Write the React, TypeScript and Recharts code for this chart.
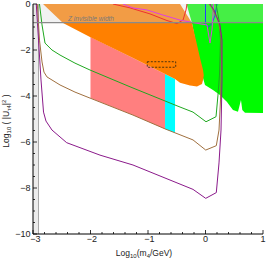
import React from 'react';
import { ComposedChart, Area, Line, XAxis, YAxis, ReferenceLine, ReferenceArea, CartesianGrid } from 'recharts';

// ---- axes ----
const xTickValues = [-3, -2.8, -2.6, -2.4, -2.2, -2, -1.8, -1.6, -1.4, -1.2, -1, -0.8, -0.6, -0.4, -0.2, 0, 0.2, 0.4, 0.6, 0.8, 1];
const xLabelled = [-3, -2, -1, 0, 1];
const yTickValues = [-10, -9.5, -9, -8.5, -8, -7.5, -7, -6.5, -6, -5.5, -5, -4.5, -4, -3.5, -3, -2.5, -2, -1.5, -1, -0.5, 0];
const yLabelled = [-10, -8, -6, -4, -2, 0];
const gridX = [-2, -1, 0];
const gridY = [-8, -6, -4, -2];

// ---- limits ----
const zInvisibleLimit = -0.81;
const zLabelText = 'Z invisible width';
const leftLimitX = -2.904;
const stripX = [-3, -2.904];
const stripLow = [-10, -10];
const stripHigh = [0, 0];
const bandX = [-3, 1];
const bandLow = [-0.81, -0.81];
const bandHigh = [0, 0];
const boxX = [-1.012, -0.518];
const boxY = [-2.75, -2.51];

// ---- filled regions ----
const orangeX = [-2.826, -2.478, -2.009, -1.261, -0.704, -0.53, -0.443, -0.27, -0.235, -0.148, -0.087, -0.061, -0.043, -0.03];
const orangeLow = [0, -0.83, -1.43, -2.35, -3.04, -3.26, -3.42, -3.54, -3.55, -3.59, -3.51, -3.48, -3.3, -3.1];
const orangeHigh = [0, 0, 0, 0, 0, 0, 0, -0.69, -0.83, -1.77, -2.43, -2.69, -2.87, -3.1];

const pinkX = [-2.0, -1.261, -0.704];
const pinkLow = [-4.09, -4.83, -5.43];
const pinkHigh = [-1.43, -2.35, -3.04];

const cyanX = [-0.704, -0.53];
const cyanLow = [-5.43, -5.6];
const cyanHigh = [-3.04, -3.26];

const greenX = [-0.33, -0.235, -0.113, -0.043, -0.009, 0.13, 0.252, 0.374, 0.478, 0.565, 0.617, 0.64, 0.687, 1.0];
const greenLow = [0, -0.83, -2.43, -3.22, -3.52, -3.74, -3.96, -4.26, -4.61, -4.68, -4.17, -4.61, -4.73, -4.74];
const greenHigh = [0, 0, 0, 0, 0, 0, 0, 0, 0, 0, 0, 0, 0, 0];

// ---- curves ----
const greenLineX = [-2.887, -2.843, -2.791, -2.67, -2.53, -2.27, -2.009, -1.313, -0.443, -0.217, 0.009, 0.183, 0.217, 0.243, 0.261, 0.235, 0.183];
const greenLineY = [0, -0.91, -1.7, -2.0, -2.22, -2.57, -2.87, -3.6, -4.48, -4.7, -5.12, -4.9, -3.96, -3.09, -1.57, -0.7, 0];

const brownLineX = [-2.925, -2.887, -2.843, -2.809, -2.757, -2.53, -2.27, -2.009, -1.261, -0.704, -0.217, 0.004, 0.188, 0.235, 0.261, 0.278, 0.27, 0.217, 0.113, 0.061];
const brownLineY = [0, -1.57, -2.52, -2.96, -3.17, -3.52, -3.83, -4.09, -4.83, -5.43, -5.91, -6.35, -6.16, -5.48, -4.17, -2.43, -1.35, -0.7, -0.17, 0];

const purpleLineX = [-2.943, -2.904, -2.861, -2.817, -2.774, -2.67, -2.414, -1.835, -1.261, -0.217, 0.004, 0.188, 0.235, 0.27, 0.287, 0.287, 0.252, 0.148, 0.078];
const purpleLineY = [0, -1.57, -3.3, -4.7, -5.09, -5.48, -6.03, -6.57, -7.0, -8.06, -8.45, -8.2, -6.91, -5.48, -3.3, -1.57, -0.91, -0.26, 0];

const redLineX = [-1.609, -1.313, -0.965, -0.67, -0.496, -0.391, -0.339, -0.322];
const redLineY = [0, -0.17, -0.43, -0.72, -0.85, -0.7, -0.26, 0];

const magentaLineX = [-1.435, -1.261, -1.017, -0.739, -0.443, -0.148, 0.026, 0.078, 0.113, 0.13, 0.139];
const magentaLineY = [0, -0.17, -0.26, -0.48, -0.7, -0.84, -0.91, -1.7, -1.13, -0.48, 0];

const blueLineX = [0.0, 0.0, 0.05, 0.11, 0.165, 0.2];
const blueLineY = [0, -0.9, -1.0, -0.85, -0.5, 0];

const toRange = (xs: number[], lo: number[], hi: number[]) => xs.map((x, i) => ({ x, v: [lo[i], hi[i]] }));
const toLine = (xs: number[], ys: number[]) => xs.map((x, i) => ({ x, y: ys[i] }));

const stripData = toRange(stripX, stripLow, stripHigh);
const bandData = toRange(bandX, bandLow, bandHigh);
const orangeData = toRange(orangeX, orangeLow, orangeHigh);
const pinkData = toRange(pinkX, pinkLow, pinkHigh);
const cyanData = toRange(cyanX, cyanLow, cyanHigh);
const greenData = toRange(greenX, greenLow, greenHigh);

const FONT = '"Liberation Sans", Arial, Helvetica, sans-serif';
const isIn = (v: number, arr: number[]) => arr.some((a) => Math.abs(a - v) < 1e-6);
const fmt = (v: number) => (v < 0 ? `\u2212${Math.abs(v)}` : `${v}`);

const BottomTick = (props: any) => {
  const { x, y, payload } = props;
  const v = payload.value;
  const major = isIn(v, xLabelled);
  const shift = v < 0 ? (v <= -3 ? 2.5 : 1.5) : 0;
  return (
    <g>
      <line x1={x} y1={y} x2={x} y2={y - (major ? 4 : 2)} stroke="#000" strokeWidth={0.8} />
      {major && (
        <text x={x + shift} y={y + 8} textAnchor="middle" fontSize={9} fill="#222" fontFamily={FONT}>
          {fmt(v)}
        </text>
      )}
    </g>
  );
};
const TopTick = (props: any) => {
  const { x, y, payload } = props;
  const major = isIn(payload.value, xLabelled);
  return <line x1={x} y1={y} x2={x} y2={y + (major ? 4 : 2)} stroke="#000" strokeWidth={0.8} />;
};
const LeftTick = (props: any) => {
  const { x, y, payload } = props;
  const major = isIn(payload.value, yLabelled);
  return (
    <g>
      <line x1={x} y1={y} x2={x + (major ? 4 : 2)} y2={y} stroke="#000" strokeWidth={0.8} />
      {major && (
        <text x={x - 2.5} y={y + 3} textAnchor="end" fontSize={9} fill="#222" fontFamily={FONT}>
          {fmt(payload.value)}
        </text>
      )}
    </g>
  );
};
const RightTick = (props: any) => {
  const { x, y, payload } = props;
  const major = isIn(payload.value, yLabelled);
  return <line x1={x} y1={y} x2={x - (major ? 4 : 2)} y2={y} stroke="#000" strokeWidth={0.8} />;
};

const XLabel = (props: any) => {
  const vb = props.viewBox || { x: 33, y: 234, width: 230, height: 25 };
  const cx = vb.x + vb.width / 2 - 4;
  const cy = vb.y + 22;
  return (
    <text x={cx} y={cy} textAnchor="middle" fontSize={8.5} fill="#222" fontFamily={FONT}>
      Log<tspan dy={2} fontSize={6}>10</tspan>
      <tspan dy={-2}>(m</tspan>
      <tspan dy={2} fontSize={6}>4</tspan>
      <tspan dy={-2}>/GeV)</tspan>
    </text>
  );
};

const YLabel = (props: any) => {
  const vb = props.viewBox || { x: 0, y: 4, width: 33, height: 230 };
  const cx = vb.x + 9;
  const cy = vb.y + vb.height / 2 + 2;
  return (
    <text
      x={cx}
      y={cy}
      transform={`rotate(-90, ${cx}, ${cy})`}
      textAnchor="middle"
      fontSize={8.5}
      fill="#222"
      fontFamily={FONT}
    >
      Log<tspan dy={2} fontSize={6}>10</tspan>
      <tspan dy={-2}> ( |U</tspan>
      <tspan dy={2} fontSize={6}>τ4</tspan>
      <tspan dy={-2}>|</tspan>
      <tspan dy={-3} fontSize={6}>2</tspan>
      <tspan dy={3}> )</tspan>
    </text>
  );
};

const ZLabel = (props: any) => {
  const vb = props.viewBox || { x: 33, y: 22.7 };
  return (
    <text x={vb.x + 58} y={vb.y - 2} textAnchor="middle" fontSize={6.5} fontStyle="italic" fill="#7a7a7a" fontFamily={FONT}>
      {zLabelText}
    </text>
  );
};

const safeScale = (axis: any, vals: number[]) => {
  if (!axis || typeof axis.scale !== 'function') return [];
  return vals.map((v) => axis.scale(v));
};

export default function App() {
  return (
    <div style={{ position: 'absolute', left: 0, top: 0, width: 266, height: 259, background: '#fff' }}>
      <ComposedChart width={266} height={259} margin={{ top: 4, right: 3, bottom: 0, left: 0 }}>
        <CartesianGrid
          stroke="#cfcfcf"
          strokeDasharray="1 2"
          verticalCoordinatesGenerator={({ xAxis }: any) => safeScale(xAxis, gridX)}
          horizontalCoordinatesGenerator={({ yAxis }: any) => safeScale(yAxis, gridY)}
        />
        <XAxis
          dataKey="x"
          type="number"
          domain={[-3, 1]}
          ticks={xTickValues}
          interval={0}
          tickSize={0}
          tickMargin={0}
          tickLine={false}
          tick={BottomTick}
          height={25}
          allowDataOverflow
          axisLine={{ stroke: '#000' }}
          label={<XLabel />}
        />
        <XAxis
          xAxisId="top"
          orientation="top"
          dataKey="x"
          type="number"
          domain={[-3, 1]}
          ticks={xTickValues}
          interval={0}
          tickSize={0}
          tickMargin={0}
          tickLine={false}
          tick={TopTick}
          height={0}
          allowDataOverflow
          axisLine={{ stroke: '#000' }}
        />
        <YAxis
          type="number"
          domain={[-10, 0]}
          ticks={yTickValues}
          interval={0}
          width={33}
          tickSize={0}
          tickMargin={0}
          tickLine={false}
          tick={LeftTick}
          allowDataOverflow
          axisLine={{ stroke: '#000' }}
          label={<YLabel />}
        />
        <YAxis
          yAxisId="right"
          orientation="right"
          type="number"
          domain={[-10, 0]}
          ticks={yTickValues}
          interval={0}
          width={0}
          tickSize={0}
          tickMargin={0}
          tickLine={false}
          tick={RightTick}
          allowDataOverflow
          axisLine={{ stroke: '#000' }}
        />

        <Area data={stripData} dataKey="v" type="linear" stroke="none" fill="#ececec" fillOpacity={1} dot={false} activeDot={false} isAnimationActive={false} zIndex={101} />
        <Area data={greenData} dataKey="v" type="linear" stroke="none" fill="#00fb00" fillOpacity={1} dot={false} activeDot={false} isAnimationActive={false} zIndex={102} />
        <Area data={pinkData} dataKey="v" type="linear" stroke="none" fill="#ff7f7f" fillOpacity={1} dot={false} activeDot={false} isAnimationActive={false} zIndex={103} />
        <Area data={cyanData} dataKey="v" type="linear" stroke="none" fill="#00ffff" fillOpacity={1} dot={false} activeDot={false} isAnimationActive={false} zIndex={104} />
        <Area data={orangeData} dataKey="v" type="linear" stroke="none" fill="#ff8000" fillOpacity={1} dot={false} activeDot={false} isAnimationActive={false} zIndex={105} />
        <Area data={bandData} dataKey="v" type="linear" stroke="none" fill="#d6d6d6" fillOpacity={0.32} dot={false} activeDot={false} isAnimationActive={false} zIndex={106} />

        <ReferenceLine x={leftLimitX} stroke="#a8a8a8" strokeWidth={1} zIndex={107} />

        <Line data={toLine(blueLineX, blueLineY)} dataKey="y" type="linear" stroke="#2040ff" strokeWidth={1} dot={false} activeDot={false} isAnimationActive={false} zIndex={400} />
        <Line data={toLine(redLineX, redLineY)} dataKey="y" type="linear" stroke="#f03030" strokeWidth={1} dot={false} activeDot={false} isAnimationActive={false} zIndex={401} />
        <Line data={toLine(magentaLineX, magentaLineY)} dataKey="y" type="linear" stroke="#e040e0" strokeWidth={1} dot={false} activeDot={false} isAnimationActive={false} zIndex={402} />
        <Line data={toLine(greenLineX, greenLineY)} dataKey="y" type="linear" stroke="#1fa81f" strokeWidth={1} dot={false} activeDot={false} isAnimationActive={false} zIndex={403} />
        <Line data={toLine(brownLineX, brownLineY)} dataKey="y" type="linear" stroke="#a0703f" strokeWidth={1} dot={false} activeDot={false} isAnimationActive={false} zIndex={404} />
        <Line data={toLine(purpleLineX, purpleLineY)} dataKey="y" type="linear" stroke="#8b1a8b" strokeWidth={1} dot={false} activeDot={false} isAnimationActive={false} zIndex={405} />

        <ReferenceLine y={zInvisibleLimit} stroke="#8a8a8a" strokeWidth={1.2} label={<ZLabel />} zIndex={410} />
        <ReferenceArea x1={boxX[0]} x2={boxX[1]} y1={boxY[0]} y2={boxY[1]} fill="none" fillOpacity={0} stroke="#3a2a10" strokeDasharray="2 1.5" strokeWidth={0.9} zIndex={420} />
      </ComposedChart>
    </div>
  );
}
